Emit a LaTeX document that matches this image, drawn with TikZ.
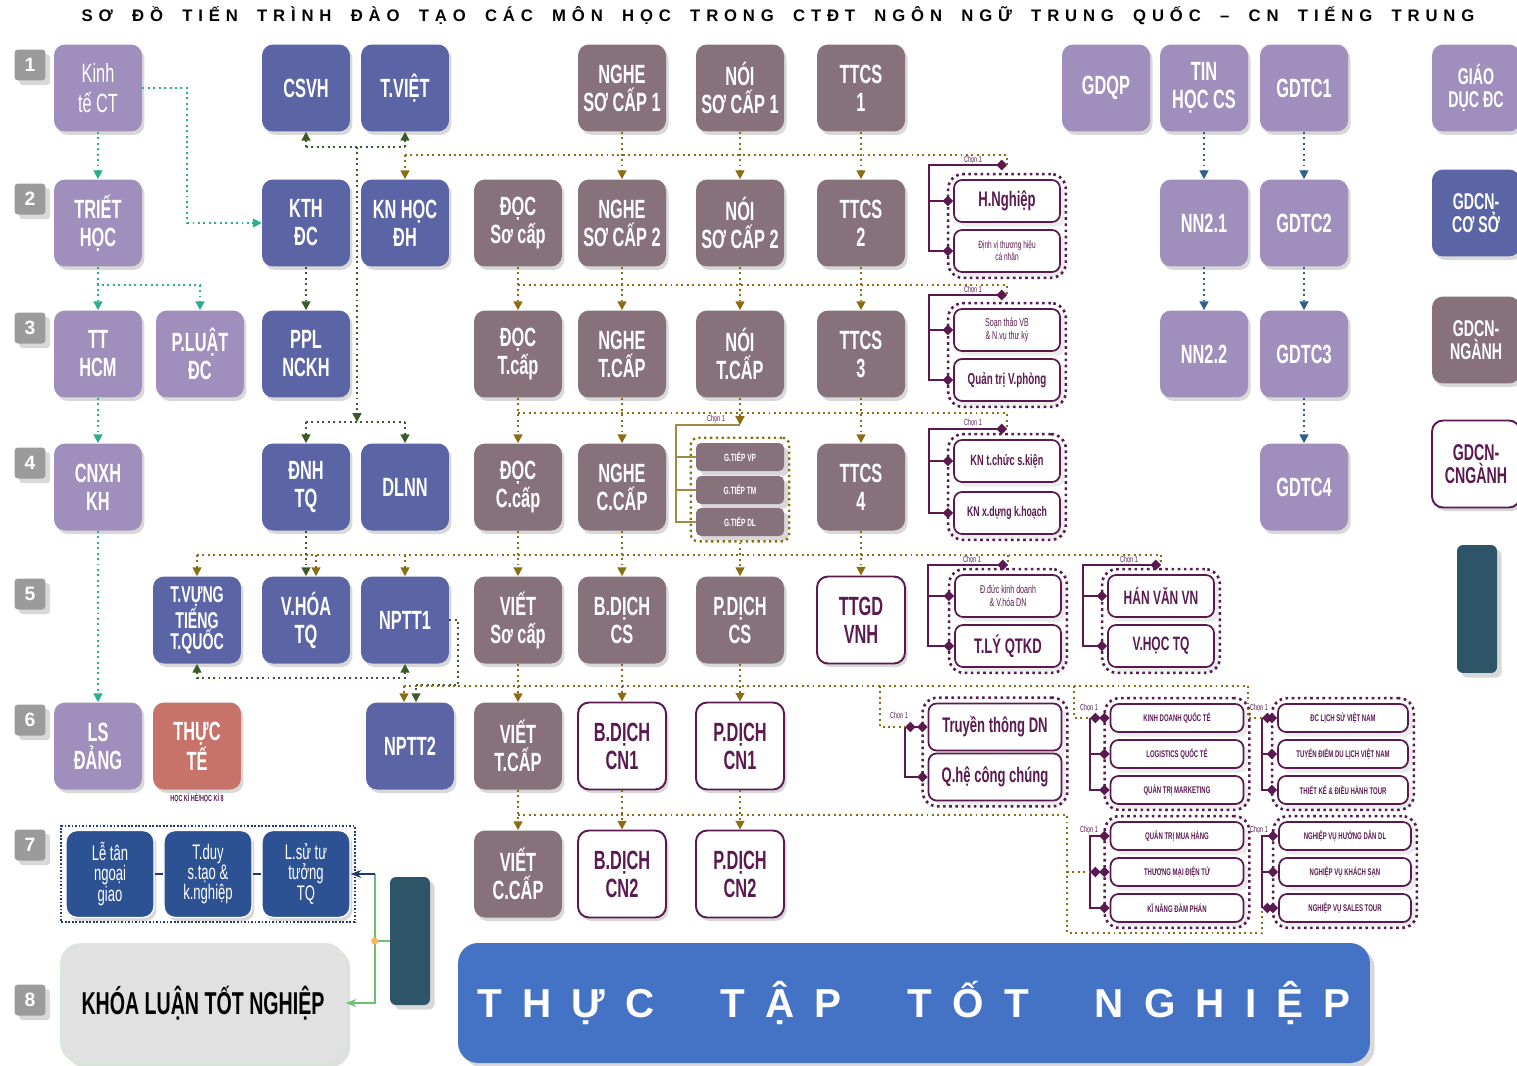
\documentclass[tikz,border=0pt]{standalone}
\usepackage{fontspec}
\setmainfont{Liberation Sans}
\newfontfamily\boxfont{Liberation Sans}[FakeStretch=0.62]
\newfontfamily\titlefont{Liberation Sans}[LetterSpace=35]
\newfontfamily\bannerfont{Liberation Sans}[LetterSpace=50]
\usetikzlibrary{arrows.meta, positioning, fit, shadows, calc}

\definecolor{genc}{HTML}{A08FBC}
\definecolor{corec}{HTML}{5B65A6}
\definecolor{majc}{HTML}{87727C}
\definecolor{specc}{HTML}{5A1A50}
\definecolor{softc}{HTML}{2C5294}
\definecolor{tripc}{HTML}{C8736A}
\definecolor{barc}{HTML}{2E5467}
\definecolor{tealc}{HTML}{2AAE8F}
\definecolor{goldc}{HTML}{8A6D12}
\definecolor{greenc}{HTML}{3A5A28}
\definecolor{bluec}{HTML}{2F5F8F}
\definecolor{navyc}{HTML}{1F3A6E}
\definecolor{tagc}{HTML}{9B9B9B}
\definecolor{thesisc}{HTML}{E1E1E1}
\definecolor{internc}{HTML}{4472C4}
\definecolor{feedc}{HTML}{6CC070}

\begin{document}
\begin{tikzpicture}[x=0.02cm, y=-0.02cm,
  base/.style={rectangle, rounded corners=0.22cm, minimum width=1.76cm,
               minimum height=1.74cm, inner sep=1pt, align=center, text=white,
               font=\boxfont\bfseries\fontsize{15}{16}\selectfont,
               drop shadow={shadow xshift=0.05cm, shadow yshift=-0.07cm, opacity=0.3}},
  gen/.style={base, fill=genc},
  core/.style={base, fill=corec},
  major/.style={base, fill=majc},
  spec/.style={base, fill=white, draw=specc, line width=1.1pt, text=specc},
  soft/.style={base, fill=softc, draw=white, line width=0.8pt,
               font=\boxfont\fontsize{12}{11.5}\selectfont},
  bar/.style={rectangle, rounded corners=0.12cm, fill=barc, minimum width=0.8cm,
              minimum height=2.56cm, drop shadow={opacity=0.3}},
  tag/.style={rectangle, rounded corners=2pt, fill=tagc, minimum size=0.62cm,
              text=white, font=\bfseries\fontsize{11}{11}\selectfont,
              drop shadow={opacity=0.3}},
  pick/.style={rectangle, rounded corners=0.16cm, draw=specc, line width=1pt,
               fill=white, text=specc, align=center, minimum width=2.12cm,
               minimum height=0.84cm, inner sep=1pt,
               font=\boxfont\bfseries\fontsize{7}{7.5}\selectfont,
               drop shadow={opacity=0.15}},
  pickwide/.style={pick, minimum width=2.66cm, minimum height=0.56cm,
                   font=\boxfont\bfseries\fontsize{5.5}{6}\selectfont},
  talk/.style={rectangle, rounded corners=0.1cm, fill=majc, text=white,
               minimum width=1.76cm, minimum height=0.56cm,
               font=\boxfont\bfseries\fontsize{6}{6}\selectfont,
               drop shadow={opacity=0.3}},
  frame/.style={draw=specc, dotted, line width=1.5pt, rounded corners=0.3cm,
                inner sep=0.1cm},
  choose/.style={font=\boxfont\fontsize{5}{5}\selectfont, text=specc, inner sep=0pt},
  pickline/.style={draw=specc, line width=1.1pt,
                   {Diamond[length=6pt,width=6pt]}-{Diamond[length=6pt,width=6pt]}},
  picktick/.style={draw=specc, line width=1.1pt, -{Diamond[length=6pt,width=6pt]}},
  talkline/.style={draw=goldc!80!white, line width=1pt},
  tealarr/.style={draw=tealc, dotted, line width=1.1pt, -{Triangle[length=5pt,width=5pt]}},
  goldline/.style={draw=goldc, dotted, line width=1.1pt},
  goldarr/.style={goldline, -{Triangle[length=5pt,width=5pt]}},
  greenline/.style={draw=greenc, dotted, line width=1.1pt},
  greenarr/.style={greenline, -{Triangle[length=5pt,width=5pt]}},
  bluearr/.style={draw=bluec, dotted, line width=1.1pt, -{Triangle[length=5pt,width=5pt]}},
  feedline/.style={draw=feedc, line width=1pt},
  small/.style={font=\boxfont\bfseries\fontsize{13}{13}\selectfont}
]
\fill[white] (0,0) rectangle (1517,1065);
\useasboundingbox (0,0) rectangle (1517,1065);

% Title
\node[font=\titlefont\bfseries\fontsize{9.5}{10}\selectfont, inner sep=0pt] (title) at (778,16)
  {\makebox[27.86cm][s]{SƠ ĐỒ TIẾN TRÌNH ĐÀO TẠO CÁC MÔN HỌC TRONG CTĐT NGÔN NGỮ TRUNG QUỐC – CN TIẾNG TRUNG}};

% Semester tags
\node[tag] (tagA) at (30,65) {1};
\node[tag] (tagB) at (30,199) {2};
\node[tag] (tagC) at (30,328) {3};
\node[tag] (tagD) at (30,463) {4};
\node[tag] (tagE) at (30,594) {5};
\node[tag] (tagF) at (30,720) {6};
\node[tag] (tagG) at (30,845) {7};
\node[tag] (tagH) at (30,1000) {8};

% Semester 1
\node[gen, font=\boxfont\fontsize{15}{17}\selectfont] (ktct) at (98,88) {Kinh\\tế CT};
\node[core] (csvh) at (306,88) {CSVH};
\node[core] (tviet) at (405,88) {T.VIỆT};
\node[major] (ngheA) at (622,88) {NGHE\\SƠ CẤP 1};
\node[major] (noiA) at (740,88) {NÓI\\SƠ CẤP 1};
\node[major] (ttcsA) at (861,88) {TTCS\\1};
\node[gen] (gdqp) at (1106,88) {GDQP};
\node[gen] (tinhoc) at (1204,88) {TIN\\HỌC CS};
\node[gen] (gdtcA) at (1304,88) {GDTC1};

% Semester 2
\node[gen] (triet) at (98,223) {TRIẾT\\HỌC};
\node[core] (kthdc) at (306,223) {KTH\\ĐC};
\node[core] (knhoc) at (405,223) {KN HỌC\\ĐH};
\node[major] (docA) at (518,223) {ĐỌC\\Sơ cấp};
\node[major] (ngheB) at (622,223) {NGHE\\SƠ CẤP 2};
\node[major] (noiB) at (740,223) {NÓI\\SƠ CẤP 2};
\node[major] (ttcsB) at (861,223) {TTCS\\2};
\node[gen] (nnA) at (1204,223) {NN2.1};
\node[gen] (gdtcB) at (1304,223) {GDTC2};

% Semester 3
\node[gen] (tthcm) at (98,354) {TT\\HCM};
\node[gen] (pluat) at (200,354) {P.LUẬT\\ĐC};
\node[core] (ppl) at (306,354) {PPL\\NCKH};
\node[major] (docB) at (518,354) {ĐỌC\\T.cấp};
\node[major] (ngheC) at (622,354) {NGHE\\T.CẤP};
\node[major] (noiC) at (740,354) {NÓI\\T.CẤP};
\node[major] (ttcsC) at (861,354) {TTCS\\3};
\node[gen] (nnB) at (1204,354) {NN2.2};
\node[gen] (gdtcC) at (1304,354) {GDTC3};

% Semester 4
\node[gen] (cnxh) at (98,487) {CNXH\\KH};
\node[core] (dnh) at (306,487) {ĐNH\\TQ};
\node[core] (dlnn) at (405,487) {DLNN};
\node[major] (docC) at (518,487) {ĐỌC\\C.cấp};
\node[major] (ngheD) at (622,487) {NGHE\\C.CẤP};
\node[major] (ttcsD) at (861,487) {TTCS\\4};
\node[gen] (gdtcD) at (1304,487) {GDTC4};

% Semester 5
\node[core, font=\boxfont\bfseries\fontsize{13}{12}\selectfont] (tvung) at (197,620) {T.VỰNG\\TIẾNG\\T.QUỐC};
\node[core] (vhoa) at (306,620) {V.HÓA\\TQ};
\node[core] (npA) at (405,620) {NPTT1};
\node[major] (vietA) at (518,620) {VIẾT\\Sơ cấp};
\node[major] (bdA) at (622,620) {B.DỊCH\\CS};
\node[major] (pdA) at (740,620) {P.DỊCH\\CS};
\node[spec] (ttgd) at (861,620) {TTGD\\VNH};

% Semester 6
\node[gen] (lsd) at (98,746) {LS\\ĐẢNG};
\node[base, fill=tripc] (thucte) at (197,746) {THỰC\\TẾ};
\node[font=\boxfont\bfseries\fontsize{5}{5}\selectfont, text=specc, inner sep=0pt] (hk) at (197,798) {HỌC KÌ HÈ/HỌC KÌ 8};
\node[core] (npB) at (410,746) {NPTT2};
\node[major] (vietB) at (518,746) {VIẾT\\T.CẤP};
\node[spec] (bdB) at (622,746) {B.DỊCH\\CN1};
\node[spec] (pdB) at (740,746) {P.DỊCH\\CN1};

% Semester 7
\node[soft] (letan) at (110,874) {Lễ tân\\ngoại\\giao};
\node[soft] (tduy) at (208,874) {T.duy\\s.tạo \&\\k.nghiệp};
\node[soft] (lsu) at (306,874) {L.sử tư\\tưởng\\TQ};
\node[draw=navyc, densely dotted, line width=1pt, fit=(letan)(lsu), inner sep=0.08cm] (softgroup) {};
\node[major] (vietC) at (518,874) {VIẾT\\C.CẤP};
\node[spec] (bdC) at (622,874) {B.DỊCH\\CN2};
\node[spec] (pdC) at (740,874) {P.DỊCH\\CN2};
\node[bar] (bar) at (410,941) {};

% Semester 8
\node[rectangle, rounded corners=0.4cm, fill=thesisc, draw=feedc!30, minimum width=5.7cm,
      minimum height=2.38cm, font=\boxfont\bfseries\fontsize{18}{18}\selectfont,
      drop shadow={opacity=0.25}] (thesis) at (203,1003) {KHÓA LUẬN TỐT NGHIỆP};
\node[rectangle, rounded corners=0.4cm, fill=internc, minimum width=18.24cm,
      minimum height=2.4cm, text=white, font=\bannerfont\bfseries\fontsize{23}{23}\selectfont,
      drop shadow={opacity=0.3}] (intern) at (914,1003)
      {THỰC\hspace{1.32cm}TẬP\hspace{1.32cm}TỐT\hspace{1.32cm}NGHIỆP};

% Legend
\node[gen, small] (legA) at (1476,88) {GIÁO\\DỤC ĐC};
\node[core, small] (legB) at (1476,213) {GDCN-\\CƠ SỞ};
\node[major, small] (legC) at (1476,340) {GDCN-\\NGÀNH};
\node[spec, small] (legD) at (1476,464) {GDCN-\\CNGÀNH};
\node[bar] (legE) at (1477,609) {};

% Electives
\node[pick, font=\boxfont\bfseries\fontsize{12}{12}\selectfont] (hn) at (1007,201) {H.Nghiệp};
\node[pick, font=\boxfont\fontsize{6}{7}\selectfont] (dv) at (1007,251) {Định vị thương hiệu\\cá nhân};
\node[frame, fit=(hn)(dv)] (hngroup) {};
\coordinate (hnin) at (1007,165);
\node[choose] (hnpick) at (973,160) {Chọn 1};
\draw[pickline] (hnin) -| ($(dv.west)+(-24,0)$) -- (dv.west);
\draw[picktick] ($(hn.west)+(-24,0)$) -- (hn.west);

\node[pick, font=\boxfont\fontsize{6.5}{7.5}\selectfont] (vb) at (1007,330) {Soạn thảo VB\\\& N.vụ thư ký};
\node[pick, font=\boxfont\bfseries\fontsize{9}{9}\selectfont] (qt) at (1007,380) {Quản trị V.phòng};
\node[frame, fit=(vb)(qt)] (vbgroup) {};
\coordinate (vbin) at (1007,295);
\node[choose] (vbpick) at (973,290) {Chọn 1};
\draw[pickline] (vbin) -| ($(qt.west)+(-24,0)$) -- (qt.west);
\draw[picktick] ($(vb.west)+(-24,0)$) -- (vb.west);

\node[talk] (gtvp) at (740,457) {G.TIẾP VP};
\node[talk] (gttm) at (740,490) {G.TIẾP TM};
\node[talk] (gtdl) at (740,522) {G.TIẾP DL};
\node[frame, draw=goldc, fit=(gtvp)(gtdl), rounded corners=0.15cm, line width=1.3pt] (gtgroup) {};
\coordinate (gtin) at (740,425);
\node[choose] (gtpick) at (716,419) {Chọn 1};
\draw[talkline] (gtin) -| ($(gtdl.west)+(-20,0)$) -- (gtdl.west);
\draw[talkline] ($(gtvp.west)+(-20,0)$) -- (gtvp.west);
\draw[talkline] ($(gttm.west)+(-20,0)$) -- (gttm.west);

\node[pick, font=\boxfont\bfseries\fontsize{8.5}{8.5}\selectfont] (kna) at (1007,461) {KN t.chức s.kiện};
\node[pick, font=\boxfont\bfseries\fontsize{8}{8}\selectfont] (knb) at (1007,513) {KN x.dựng k.hoạch};
\node[frame, fit=(kna)(knb)] (kngroup) {};
\coordinate (knin) at (1007,429);
\node[choose] (knpick) at (973,423) {Chọn 1};
\draw[pickline] (knin) -| ($(knb.west)+(-24,0)$) -- (knb.west);
\draw[picktick] ($(kna.west)+(-24,0)$) -- (kna.west);

\node[pick, font=\boxfont\fontsize{6.5}{7.5}\selectfont] (dd) at (1008,596) {Đ.đức kinh doanh\\\& V.hóa DN};
\node[pick, font=\boxfont\bfseries\fontsize{12}{12}\selectfont] (tly) at (1008,646) {T.LÝ QTKD};
\node[frame, fit=(dd)(tly)] (ddgroup) {};
\coordinate (ddin) at (1008,565);
\node[choose] (ddpick) at (972,560) {Chọn 1};
\draw[pickline] (ddin) -| ($(tly.west)+(-26,0)$) -- (tly.west);
\draw[picktick] ($(dd.west)+(-26,0)$) -- (dd.west);

\node[pick, font=\boxfont\bfseries\fontsize{11}{11}\selectfont] (hv) at (1161,596) {HÁN VĂN VN};
\node[pick, font=\boxfont\bfseries\fontsize{11}{11}\selectfont] (vh) at (1161,646) {V.HỌC TQ};
\node[frame, fit=(hv)(vh)] (hvgroup) {};
\coordinate (hvin) at (1161,565);
\node[choose] (hvpick) at (1129,560) {Chọn 1};
\draw[pickline] (hvin) -| ($(vh.west)+(-24,0)$) -- (vh.west);
\draw[picktick] ($(hv.west)+(-24,0)$) -- (hv.west);

\node[pick, minimum width=2.66cm, minimum height=0.94cm, font=\boxfont\bfseries\fontsize{12}{12}\selectfont] (ttdn) at (995,727) {Truyền thông DN};
\node[pick, minimum width=2.66cm, minimum height=0.94cm, font=\boxfont\bfseries\fontsize{12}{12}\selectfont] (qh) at (995,777) {Q.hệ công chúng};
\node[frame, fit=(ttdn)(qh)] (ttgroup) {};
\coordinate (ttin) at (905,727);
\node[choose] (ttpick) at (899,716) {Chọn 1};
\draw[pickline] (ttin) -- (ttdn.west);
\draw[picktick] (ttin) |- (qh.west);

\node[pickwide] (kdqt) at (1177,718) {KINH DOANH QUỐC TẾ};
\node[pickwide] (lgqt) at (1177,754) {LOGISTICS QUỐC TẾ};
\node[pickwide] (qtmk) at (1177,790) {QUẢN TRỊ MARKETING};
\node[frame, fit=(kdqt)(qtmk)] (kdgroup) {};
\coordinate (kdin) at (1090,718);
\node[choose] (kdpick) at (1089,708) {Chọn 1};
\draw[pickline] (kdin) -- (kdqt.west);
\draw[picktick] (kdin) |- (qtmk.west);
\draw[picktick] (kdin |- lgqt.west) -- (lgqt.west);

\node[pickwide, minimum width=2.6cm] (dcls) at (1343,718) {ĐC LỊCH SỬ VIỆT NAM};
\node[pickwide, minimum width=2.6cm] (tddl) at (1343,754) {TUYẾN ĐIỂM DU LỊCH VIỆT NAM};
\node[pickwide, minimum width=2.6cm] (tkdh) at (1343,790) {THIẾT KẾ \& ĐIỀU HÀNH TOUR};
\node[frame, fit=(dcls)(tkdh)] (dcgroup) {};
\coordinate (dcin) at (1262,718);
\node[choose] (dcpick) at (1259,708) {Chọn 1};
\draw[pickline] (dcin) -- (dcls.west);
\draw[picktick] (dcin) |- (tkdh.west);
\draw[picktick] (dcin |- tddl.west) -- (tddl.west);

\node[pickwide] (qtmh) at (1177,836) {QUẢN TRỊ MUA HÀNG};
\node[pickwide] (tmdt) at (1177,872) {THƯƠNG MẠI ĐIỆN TỬ};
\node[pickwide] (kndp) at (1177,908) {KĨ NĂNG ĐÀM PHÁN};
\node[frame, fit=(qtmh)(kndp)] (mhgroup) {};
\coordinate (tmin) at (1090,872);
\node[choose] (mhpick) at (1089,830) {Chọn 1};
\draw[pickline] (tmin) -- (tmdt.west);
\draw[picktick] (tmin) |- (qtmh.west);
\draw[picktick] (tmin) |- (kndp.west);

\node[pickwide, minimum width=2.64cm] (nvhd) at (1345,836) {NGHIỆP VỤ HƯỚNG DẪN DL};
\node[pickwide, minimum width=2.64cm] (nvks) at (1345,872) {NGHIỆP VỤ KHÁCH SẠN};
\node[pickwide, minimum width=2.64cm] (nvst) at (1345,908) {NGHIỆP VỤ SALES TOUR};
\node[frame, fit=(nvhd)(nvst)] (nvgroup) {};
\coordinate (nvin) at (1262,908);
\node[choose] (nvpick) at (1259,830) {Chọn 1};
\draw[pickline] (nvin) -- (nvst.west);
\draw[picktick] (nvin) |- (nvhd.west);
\draw[picktick] (nvin |- nvks.west) -- (nvks.west);

% General education chain
\draw[tealarr] (ktct) -- (triet);
\draw[tealarr] (ktct.east) -- ++(45,0) |- (kthdc.west);
\draw[tealarr] (triet) -- (tthcm);
\draw[tealarr] (triet.south) -- ++(0,18) -| (pluat.north);
\draw[tealarr] (tthcm) -- (cnxh);
\draw[tealarr] (cnxh) -- (lsd);

% Core chain
\coordinate (gtop) at (357,147);
\coordinate (gbot) at (357,422);
\draw[greenline] (csvh.south |- gtop) -- (tviet.south |- gtop);
\draw[greenarr] (csvh.south |- gtop) -- (csvh);
\draw[greenarr] (tviet.south |- gtop) -- (tviet);
\draw[greenarr] (gtop) -- (gbot);
\draw[greenline] (dnh.north |- gbot) -- (dlnn.north |- gbot);
\draw[greenarr] (dnh.north |- gbot) -- (dnh);
\draw[greenarr] (dlnn.north |- gbot) -- (dlnn);
\draw[greenarr] (kthdc) -- (ppl);
\draw[greenarr] (dnh) -- (vhoa);
\draw[greenline, {Triangle[length=5pt,width=5pt]}-{Triangle[length=5pt,width=5pt]}] (tvung.south) -- ++(0,14) -| (npA.south);
\coordinate (npBr) at ($(npB.north)+(6,0)$);
\draw[greenarr] (npA.east) -- ++(9,0) -- ++(0,65) -| (npBr);

% Language chain
\coordinate (busA) at (0,155);
\coordinate (busB) at (0,285);
\coordinate (busC) at (0,413);
\coordinate (busD) at (0,555);
\coordinate (busE) at (0,686);
\coordinate (busF) at (0,815);

\draw[goldline] (knhoc.north |- busA) -- (hnin |- busA) -- (hnin);
\draw[goldarr] (knhoc.north |- busA) -- (knhoc);
\draw[goldarr] (ngheA) -- (ngheB);
\draw[goldarr] (noiA) -- (noiB);
\draw[goldarr] (ttcsA) -- (ttcsB);

\draw[goldline] (docA.south |- busB) -- (vbin |- busB) -- (vbin);
\draw[goldarr] (docA) -- (docB);
\draw[goldarr] (ngheB) -- (ngheC);
\draw[goldarr] (noiB) -- (noiC);
\draw[goldarr] (ttcsB) -- (ttcsC);

\draw[goldline] (docB.south |- busC) -- (knin |- busC) -- (knin);
\draw[goldarr] (docB) -- (docC);
\draw[goldarr] (ngheC) -- (ngheD);
\draw[goldarr] (noiC) -- (gtin);
\draw[goldarr] (ttcsC) -- (ttcsD);

\coordinate (vhoaR) at ($(vhoa.north)+(10,0)$);
\draw[goldline] (tvung.north |- busD) -- (hvin |- busD) -- (hvin);
\draw[goldline] (ddin |- busD) -- (ddin);
\draw[goldarr] (tvung.north |- busD) -- (tvung);
\draw[goldarr] (vhoaR |- busD) -- (vhoaR);
\draw[goldarr] (npA.north |- busD) -- (npA);
\draw[goldarr] (docC) -- (vietA);
\draw[goldarr] (ngheD) -- (bdA);
\draw[goldarr] (gtgroup) -- (pdA);
\draw[goldarr] (ttcsD) -- (ttgd);

\coordinate (npBl) at ($(npB.north)+(-6,0)$);
\draw[goldline] (npBl |- busE) -- ($(dcin |- busE)+(-14,0)$) |- (dcin);
\draw[goldline] ($(ttin |- busE)+(-25,0)$) |- (ttin);
\draw[goldline] ($(kdin |- busE)+(-16,0)$) |- (kdin);
\draw[goldarr] (npBl |- busE) -- (npBl);
\draw[goldarr] (vietA) -- (vietB);
\draw[goldarr] (bdA) -- (bdB);
\draw[goldarr] (pdA) -- (pdB);

\coordinate (fturn) at (1067,815);
\coordinate (flow) at (1067,933);
\draw[goldline] (vietB.south |- busF) -- (fturn) -- (flow) -| (nvin);
\draw[goldline] (fturn |- tmin) -- (tmin);
\draw[goldarr] (vietB) -- (vietC);
\draw[goldarr] (bdB) -- (bdC);
\draw[goldarr] (pdB) -- (pdC);

% Second language and PE chain
\draw[bluearr] (tinhoc) -- (nnA);
\draw[bluearr] (nnA) -- (nnB);
\draw[bluearr] (gdtcA) -- (gdtcB);
\draw[bluearr] (gdtcB) -- (gdtcC);
\draw[bluearr] (gdtcC) -- (gdtcD);

% Soft skills and graduation
\draw[navyc, line width=1pt] (letan) -- (tduy);
\draw[navyc, line width=1pt] (tduy) -- (lsu);
\draw[feedline, -{Stealth[length=6pt]}] (bar.west) -- ++(-15,0) coordinate (fork) |- (thesis.east);
\draw[feedline] (fork) -- (fork |- lsu.east);
\draw[navyc, line width=1.1pt, -{Stealth[length=6pt]}] (fork |- lsu.east) -- (lsu.east);
\fill[orange!60] (fork) circle (2pt);

\end{tikzpicture}
\end{document}
